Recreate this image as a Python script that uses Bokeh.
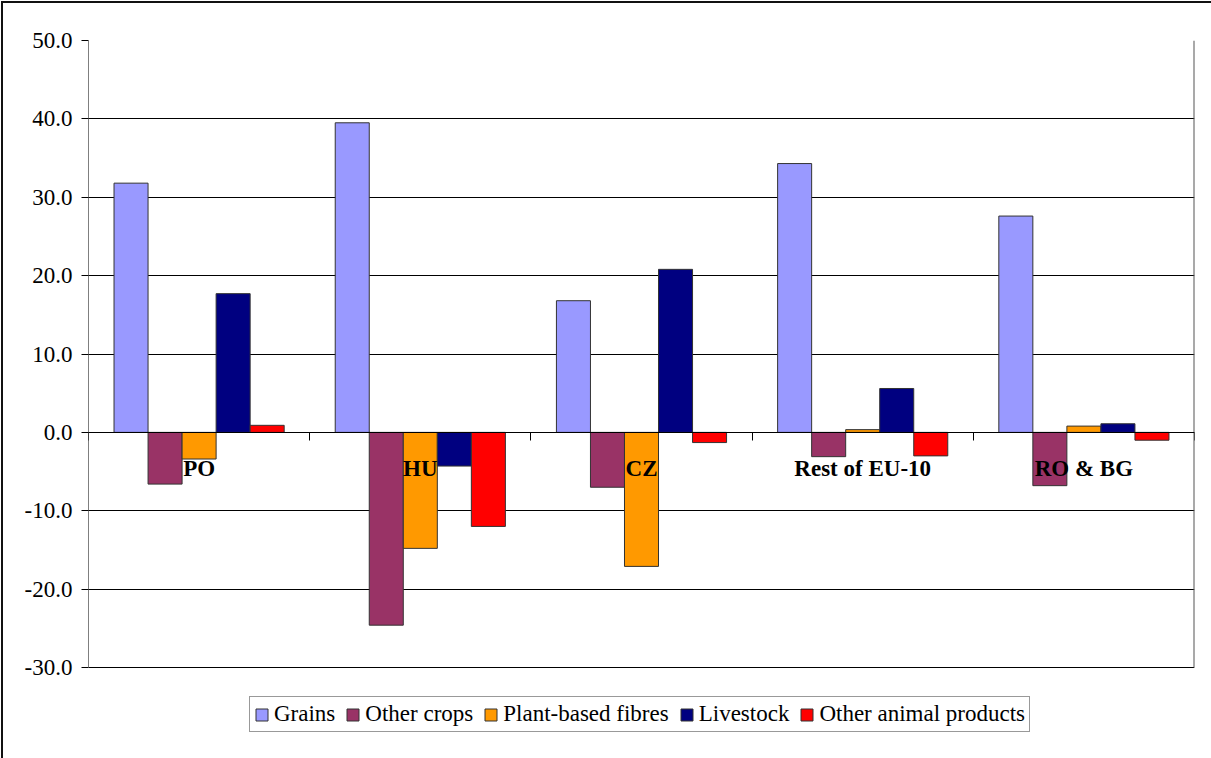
from bokeh.plotting import figure
from bokeh.models import (ColumnDataSource, Range1d, FixedTicker, LinearAxis,
                          NumeralTickFormatter, Legend, LegendItem)
from bokeh.core.properties import value
from bokeh.embed import file_html
from bokeh.resources import INLINE

categories = ["PO", "HU", "CZ", "Rest of EU-10", "RO & BG"]
series_names = ["Grains", "Other crops", "Plant-based fibres", "Livestock", "Other animal products"]
grains = [31.8, 39.5, 16.8, 34.3, 27.6]
other_crops = [-6.6, -24.6, -7.0, -3.1, -6.8]
plant_fibres = [-3.4, -14.8, -17.1, 0.35, 0.8]
livestock = [17.7, -4.3, 20.8, 5.6, 1.1]
other_animal = [0.9, -12.0, -1.3, -3.0, -1.0]
colors = ["#9999FF", "#993366", "#FF9900", "#000080", "#FF0000"]
y_ticks = [-30, -20, -10, 0, 10, 20, 30, 40, 50]

FONT = "Liberation Serif"
n = len(categories)
centers = [i + 0.5 for i in range(n)]
series = [grains, other_crops, plant_fibres, livestock, other_animal]

# layout (pixels)
W, H = 1208, 755
TOP, BOTTOM, LEFT, RIGHT = 37, 8, 85, 17
PLOT_PX = 627                      # pixel height of the value span (-30..50)
frame_h = H - TOP - BOTTOM
y_lo, y_hi = y_ticks[0], y_ticks[-1]
y_start = y_hi - (y_hi - y_lo) * frame_h / PLOT_PX   # extra room below for the legend

p = figure(width=W, height=H, x_range=Range1d(0, n),
           y_range=Range1d(y_start, y_hi),
           output_backend="svg", toolbar_location=None,
           x_axis_location=None,
           min_border_left=LEFT, min_border_right=RIGHT,
           min_border_top=TOP, min_border_bottom=BOTTOM)
p.styles = {"position": "absolute", "left": "3px", "top": "3px",
            "outline": "2px solid #111"}

p.outline_line_color = None
p.background_fill_color = "white"
p.border_fill_color = "white"

# grid
p.xgrid.grid_line_color = None
p.ygrid.grid_line_color = "black"
p.ygrid.grid_line_width = 1
p.ygrid.ticker = FixedTicker(ticks=y_ticks)

# y axis (axis line drawn separately so it stops at the lowest tick)
p.yaxis.ticker = FixedTicker(ticks=y_ticks)
p.yaxis.formatter = NumeralTickFormatter(format="0.0")
p.yaxis.major_label_text_font = FONT
p.yaxis.major_label_text_font_size = "23px"
p.yaxis.major_label_text_color = "black"
p.yaxis.major_tick_out = 7
p.yaxis.major_tick_in = 0
p.yaxis.minor_tick_line_color = None
p.yaxis.axis_line_color = None
p.yaxis.major_tick_line_color = "black"
p.yaxis.major_label_standoff = 9

# frame edges: left axis line and right border
p.segment(x0=[0], y0=[y_lo], x1=[0], y1=[y_hi], line_color="black", line_width=1)
p.segment(x0=[n], y0=[y_lo], x1=[n], y1=[y_hi], line_color="#555555", line_width=2)

# x axis at y=0 with ticks at category boundaries (pointing down)
xa = LinearAxis(ticker=FixedTicker(ticks=list(range(n + 1))))
xa.fixed_location = 0
xa.major_label_text_font_size = "0px"
xa.major_tick_out = 0
xa.major_tick_in = 8
xa.minor_tick_line_color = None
xa.axis_line_color = "black"
xa.major_tick_line_color = "black"
xa.major_label_standoff = 0
p.add_layout(xa, "above")

bw = 1 / 6.5
items = []
for j, (vals, name, col) in enumerate(zip(series, series_names, colors)):
    s = ColumnDataSource(dict(x=[c + (j - 2) * bw for c in centers], top=vals))
    r = p.vbar(x="x", top="top", bottom=0, width=bw, source=s,
               fill_color=col, line_color="#333333", line_width=1)
    items.append(LegendItem(label=name, renderers=[r]))

lab = ColumnDataSource(dict(x=centers, y=[0] * n, text=categories))
p.text(x="x", y="y", text="text", source=lab, y_offset=36,
       text_font=value(FONT), text_font_size="23px", text_font_style="bold",
       text_align="center", text_baseline="middle", text_color="black")

legend = Legend(items=items, orientation="horizontal", location=(161, 18))
legend.label_text_font = FONT
legend.label_text_font_size = "23px"
legend.label_text_color = "black"
legend.glyph_width = 15
legend.glyph_height = 15
legend.label_standoff = 5
legend.label_height = 15
legend.spacing = 10
legend.padding = 4
legend.margin = 0
legend.border_line_color = "#333333"
legend.border_line_width = 1
legend.background_fill_color = "white"
p.add_layout(legend, "center")

open("out.html", "w").write(file_html(p, INLINE))
